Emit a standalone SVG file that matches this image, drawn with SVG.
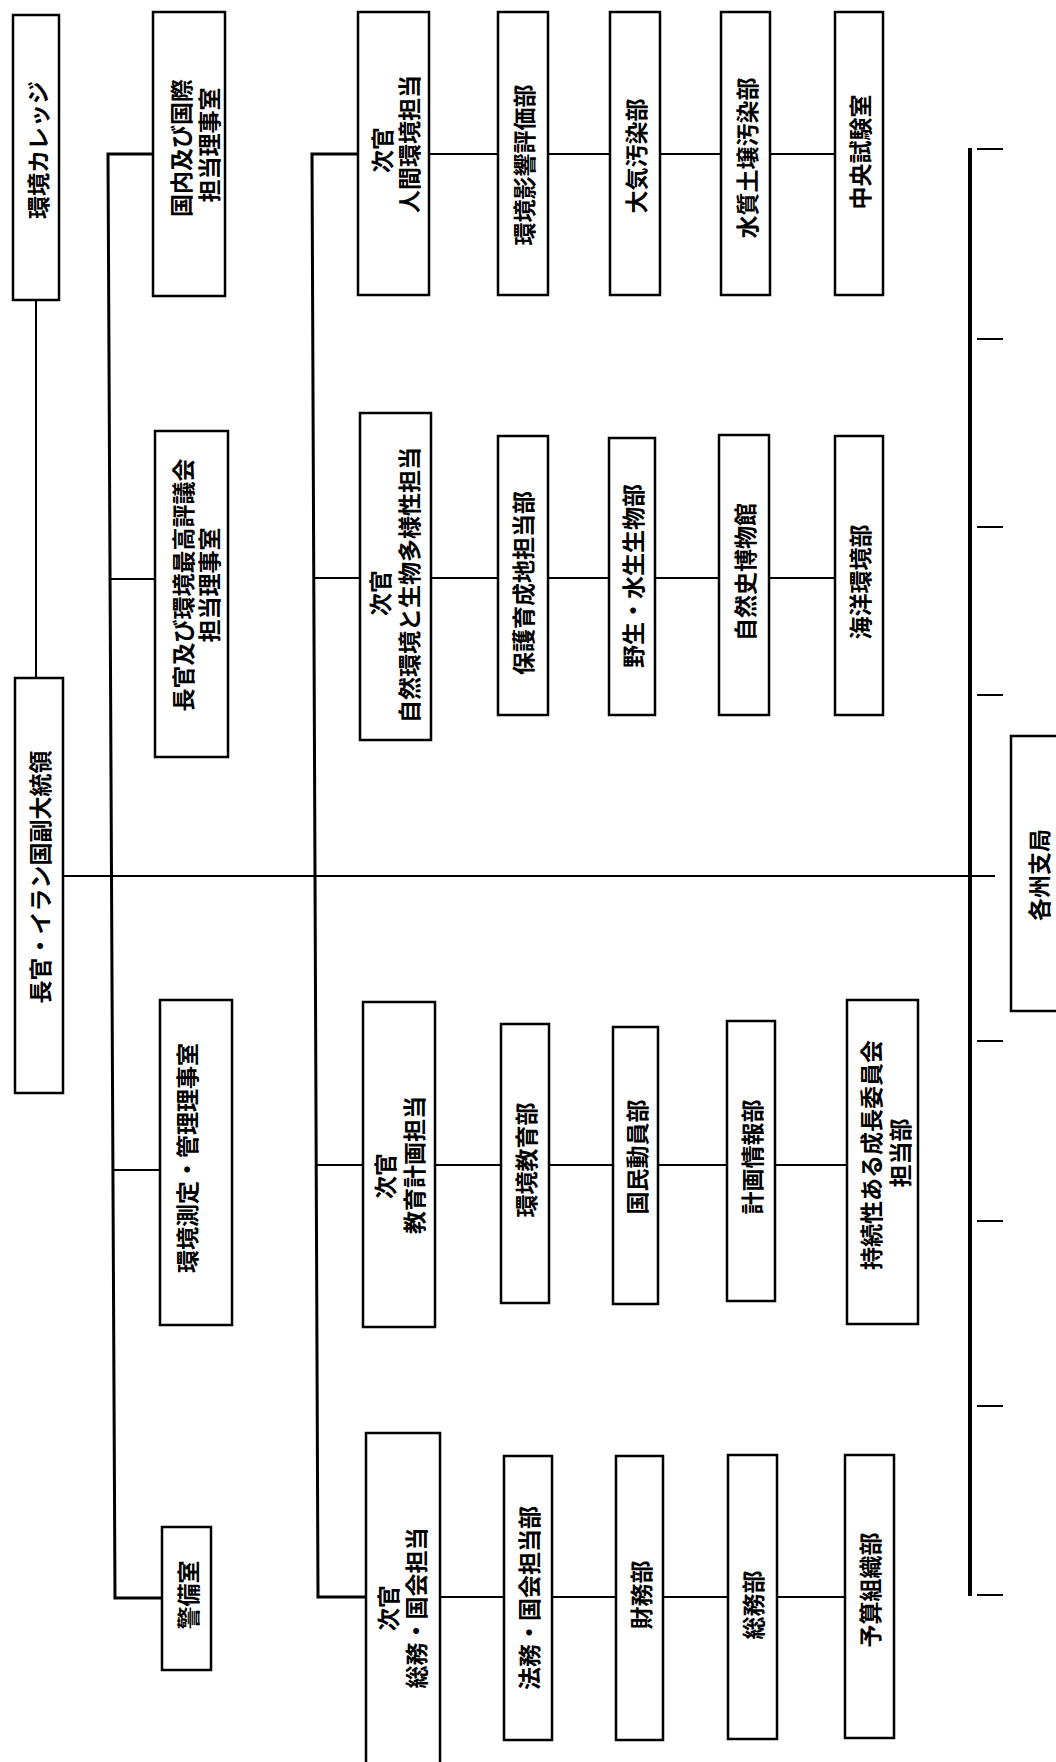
<svg xmlns="http://www.w3.org/2000/svg" width="1056" height="1762" viewBox="0 0 1056 1762">
<style>
.box{fill:#fff;stroke:#000;stroke-width:2.5}
.t{font-family:"Noto Sans CJK JP","Noto Sans CJK SC",sans-serif;font-size:23px;font-weight:bold;text-anchor:middle;dominant-baseline:central;fill:#000}
.c{stroke:#000;stroke-width:2;fill:none}
.k{stroke:#000;stroke-width:3;fill:none}
.r{stroke:#000;stroke-width:4;fill:none}
</style>
<rect width="1056" height="1762" fill="#fff"/>
<g id="connectors">
<path class="c" d="M36 300V678"/>
<path class="c" d="M63 876H995"/>
<path class="k" d="M153 154H108L115 1598H162"/>
<path class="c" d="M110 579H155M113 1170H160"/>
<path class="k" d="M358 154H312L318 1597H366"/>
<path class="c" d="M314 578H360M316 1165H363"/>
<path class="c" d="M429 154H835M431 578H835M435 1165H847M440 1597H845"/>
<path class="r" d="M970 148V1596"/>
<path class="c" d="M977 149H1003M977 339H1003M977 527H1003M977 695H1003M977 1041H1003M977 1221H1003M977 1406H1003M977 1595H1003"/>
</g>
<g id="n1"><rect class="box" x="13" y="15" width="46" height="285"/><text class="t" transform="translate(37,150) rotate(-90)">環境カレッジ</text></g>
<g id="n2"><rect class="box" x="15" y="678" width="48" height="415"/><text class="t" transform="translate(39,877) rotate(-90)">長官・イラン国副大統領</text></g>
<g id="n3"><rect class="box" x="153" y="12" width="72" height="284"/><text class="t" transform="translate(180,148) rotate(-90)">国内及び国際</text><text class="t" transform="translate(208,145) rotate(-90)">担当理事室</text></g>
<g id="n4"><rect class="box" x="155" y="431" width="73" height="326"/><text class="t" transform="translate(182,585) rotate(-90)">長官及び環境最高評議会</text><text class="t" transform="translate(208,585) rotate(-90)">担当理事室</text></g>
<g id="n5"><rect class="box" x="160" y="1000" width="72" height="325"/><text class="t" transform="translate(186,1158) rotate(-90)">環境測定・管理理事室</text></g>
<g id="n6"><rect class="box" x="162" y="1527" width="49" height="143"/><text class="t" transform="translate(187,1595) rotate(-90)">警備室</text></g>
<g id="n7"><rect class="box" x="358" y="12" width="71" height="283"/><text class="t" transform="translate(381,150) rotate(-90)">次官</text><text class="t" transform="translate(408,144) rotate(-90)">人間環境担当</text></g>
<g id="n8"><rect class="box" x="498" y="12" width="50" height="283"/><text class="t" transform="translate(523,165) rotate(-90)">環境影響評価部</text></g>
<g id="n9"><rect class="box" x="610" y="12" width="50" height="283"/><text class="t" transform="translate(635,156) rotate(-90)">大気汚染部</text></g>
<g id="n10"><rect class="box" x="721" y="12" width="49" height="283"/><text class="t" transform="translate(746,158) rotate(-90)">水質土壌汚染部</text></g>
<g id="n11"><rect class="box" x="835" y="12" width="48" height="283"/><text class="t" transform="translate(859,152) rotate(-90)">中央試験室</text></g>
<g id="n12"><rect class="box" x="360" y="413" width="71" height="327"/><text class="t" transform="translate(379,593) rotate(-90)">次官</text><text class="t" transform="translate(408,585) rotate(-90)">自然環境と生物多様性担当</text></g>
<g id="n13"><rect class="box" x="498" y="436" width="50" height="279"/><text class="t" transform="translate(522,583) rotate(-90)">保護育成地担当部</text></g>
<g id="n14"><rect class="box" x="609" y="438" width="46" height="277"/><text class="t" transform="translate(632,576) rotate(-90)">野生・水生生物部</text></g>
<g id="n15"><rect class="box" x="719" y="435" width="50" height="280"/><text class="t" transform="translate(744,572) rotate(-90)">自然史博物館</text></g>
<g id="n16"><rect class="box" x="835" y="436" width="48" height="279"/><text class="t" transform="translate(859,582) rotate(-90)">海洋環境部</text></g>
<g id="n17"><rect class="box" x="363" y="1002" width="72" height="325"/><text class="t" transform="translate(384,1176) rotate(-90)">次官</text><text class="t" transform="translate(413,1165) rotate(-90)">教育計画担当</text></g>
<g id="n18"><rect class="box" x="501" y="1024" width="48" height="279"/><text class="t" transform="translate(525,1160) rotate(-90)">環境教育部</text></g>
<g id="n19"><rect class="box" x="613" y="1027" width="45" height="277"/><text class="t" transform="translate(636,1157) rotate(-90)">国民動員部</text></g>
<g id="n20"><rect class="box" x="727" y="1021" width="48" height="280"/><text class="t" transform="translate(751,1157) rotate(-90)">計画情報部</text></g>
<g id="n21"><rect class="box" x="847" y="1000" width="71" height="324"/><text class="t" transform="translate(870,1155) rotate(-90)">持続性ある成長委員会</text><text class="t" transform="translate(899,1153) rotate(-90)">担当部</text></g>
<g id="n22"><rect class="box" x="366" y="1433" width="74" height="340"/><text class="t" transform="translate(387,1608) rotate(-90)">次官</text><text class="t" transform="translate(415,1608) rotate(-90)">総務・国会担当</text></g>
<g id="n23"><rect class="box" x="504" y="1456" width="48" height="284"/><text class="t" transform="translate(528,1598) rotate(-90)">法務・国会担当部</text></g>
<g id="n24"><rect class="box" x="616" y="1456" width="47" height="284"/><text class="t" transform="translate(640,1595) rotate(-90)">財務部</text></g>
<g id="n25"><rect class="box" x="728" y="1455" width="49" height="284"/><text class="t" transform="translate(752,1605) rotate(-90)">総務部</text></g>
<g id="n26"><rect class="box" x="845" y="1455" width="49" height="283"/><text class="t" transform="translate(869,1590) rotate(-90)">予算組織部</text></g>
<g id="n27"><rect class="box" x="1011" y="736" width="60" height="275"/><text class="t" transform="translate(1038,875) rotate(-90)">各州支局</text></g>
</svg>
